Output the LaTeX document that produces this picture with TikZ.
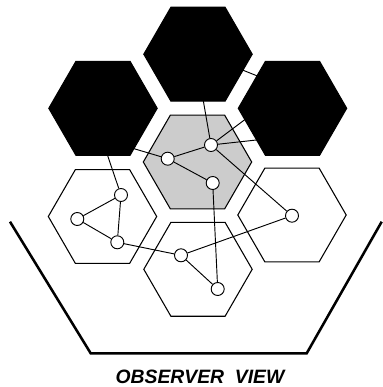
\documentclass[tikz,border=0pt]{standalone}
\usepackage{fontspec}
\setsansfont{Liberation Sans}
\usetikzlibrary{shapes.geometric, positioning, calc}
\definecolor{cellgray}{RGB}{204,204,204}
\tikzset{
  cell/.style={regular polygon, regular polygon sides=6, minimum size=81.3pt,
    inner sep=0pt, outer sep=0pt, draw=black, line width=0.8pt},
  deadcell/.style={cell, fill=black},
  hubcell/.style={cell, fill=cellgray},
  freecell/.style={cell, fill=white},
  joint/.style={circle, draw=black, fill=white, minimum size=9.75pt,
    inner sep=0pt, line width=0.7pt},
  link/.style={line width=0.7pt, color=black},
  rim/.style={line width=1.9pt, color=black}
}

\begin{document}
\begin{tikzpicture}[x=0.75pt, y=-0.75pt]
  \useasboundingbox (0,0) rectangle (383,387);

  % Open cells
  \node[hubcell]  (hub)   at (197.5,162) {};
  \node[freecell] (lower) at (102.5,216.5) {};
  \node[freecell] (right) at (292,215) {};
  \node[freecell] (base)  at (198,269.3) {};

  % Joints
  \node[joint] (a) at (167.7,158.7) {};
  \node[joint] (b) at (211,145) {};
  \node[joint] (c) at (212.7,183) {};
  \node[joint] (d) at (121,195) {};
  \node[joint] (e) at (77.3,219) {};
  \node[joint] (f) at (117.3,242.3) {};
  \node[joint] (g) at (181,255.3) {};
  \node[joint] (h) at (217.7,289) {};
  \node[joint] (i) at (292,215.7) {};

  % Hidden ends inside the dark cells
  \coordinate (tp)  at (199.7,80);
  \coordinate (ur1) at (255,112);
  \coordinate (ur2) at (270,138.5);
  \coordinate (tq)  at (235,67);
  \coordinate (uq)  at (265,79);
  \coordinate (ul1) at (125,146);
  \coordinate (ul2) at (103,142);

  % Links
  \draw[link] (b) -- (tp);
  \draw[link] (b) -- (ur1);
  \draw[link] (b) -- (ur2);
  \draw[link] (tq) -- (uq);
  \draw[link] (a) -- (ul1);
  \draw[link] (d) -- (ul2);
  \draw[link] (a) -- (b);
  \draw[link] (a) -- (c);
  \draw[link] (b) -- (i);
  \draw[link] (c) -- (h);
  \draw[link] (d) -- (e);
  \draw[link] (d) -- (f);
  \draw[link] (e) -- (f);
  \draw[link] (f) -- (g);
  \draw[link] (g) -- (i);
  \draw[link] (g) -- (h);

  % Dark cells
  \node[deadcell] (top)   at (198,54.2) {};
  \node[deadcell] (upleft) at (103,108.3) {};
  \node[deadcell] (upright) at (292.5,108.3) {};

  % Observer bracket
  \draw[rim] (10,221.7) -- (90.7,353.3) -- (306.7,353.3) -- (381.7,221.7);
  \node[anchor=base, inner sep=0pt,
    font=\sffamily\bfseries\itshape\fontsize{14.5}{17}\selectfont] (view) at (200,383.5)
    {OBSERVER\ \ VIEW};
\end{tikzpicture}
\end{document}
